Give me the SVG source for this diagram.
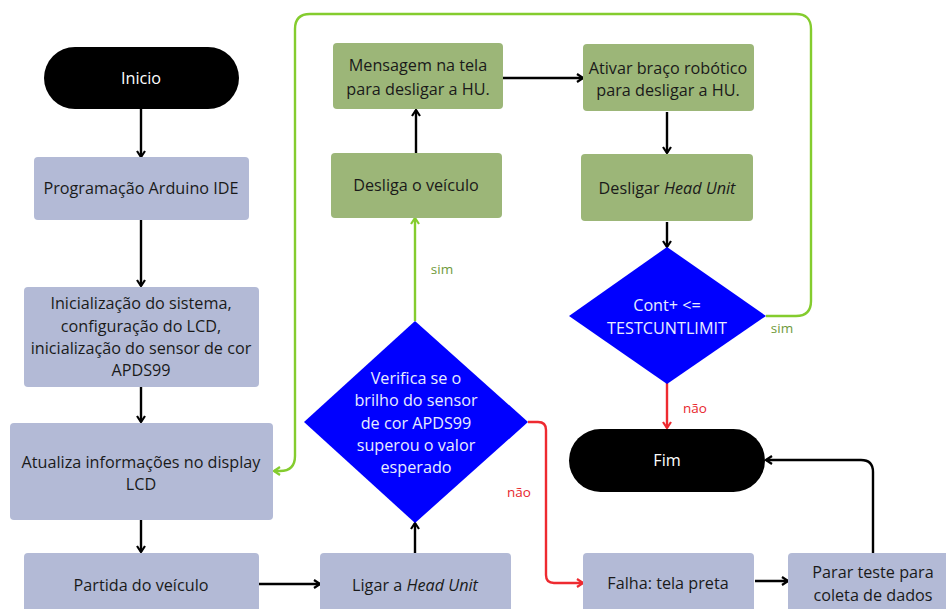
<svg xmlns="http://www.w3.org/2000/svg" width="946" height="609" viewBox="0 0 946 609">
<defs>
<style>
text{font-family:"Open Sans","Noto Sans","Liberation Sans",sans-serif;font-size:16.2px;text-anchor:middle;fill:#1a1a1a}
.w{fill:#ffffff}
.wb{fill:#e8ecff}
.g{fill:#b3bad6}
.gr{fill:#9cb678}
.d{fill:#0000ff}
.t{fill:#000000}
.c{fill:none;stroke:#000;stroke-width:2.4}
.cg{fill:none;stroke:#84cc2e;stroke-width:2.4}
.cr{fill:none;stroke:#ee2a30;stroke-width:2.4}
.lg{fill:#6f9a3a;font-size:13.5px}
.lr{fill:#e8262d;font-size:13.5px}
</style>
<marker id="ab" viewBox="0 0 10 10" refX="9" refY="5" markerWidth="10" markerHeight="10" markerUnits="userSpaceOnUse" orient="auto"><path d="M3,1 L9,5 L3,9" fill="none" stroke="#000" stroke-width="2.2"/></marker>
<marker id="ag" viewBox="0 0 10 10" refX="9" refY="5" markerWidth="10" markerHeight="10" markerUnits="userSpaceOnUse" orient="auto"><path d="M3,1 L9,5 L3,9" fill="none" stroke="#84cc2e" stroke-width="2.2"/></marker>
<marker id="ar" viewBox="0 0 10 10" refX="9" refY="5" markerWidth="10" markerHeight="10" markerUnits="userSpaceOnUse" orient="auto"><path d="M3,1 L9,5 L3,9" fill="none" stroke="#ee2a30" stroke-width="2.2"/></marker>
</defs>
<rect width="946" height="609" fill="#ffffff"/>
<g id="connectors">
<path class="c" d="M141,109 V157" marker-end="url(#ab)"/>
<path class="c" d="M141,220 V286" marker-end="url(#ab)"/>
<path class="c" d="M141,387 V422" marker-end="url(#ab)"/>
<path class="c" d="M141,520 V552" marker-end="url(#ab)"/>
<path class="c" d="M259,584 H320" marker-end="url(#ab)"/>
<path class="c" d="M415,553 V523" marker-end="url(#ab)"/>
<path class="cg" d="M415,321 V218" marker-end="url(#ag)"/>
<path class="c" d="M416,153 V110" marker-end="url(#ab)"/>
<path class="c" d="M503,78 H583" marker-end="url(#ab)"/>
<path class="c" d="M667,112 V153" marker-end="url(#ab)"/>
<path class="c" d="M667,222 V247" marker-end="url(#ab)"/>
<path class="cg" d="M766,316 H796 Q811,316 811,301 V29 Q811,14 796,14 H310 Q295,14 295,29 V456 Q295,471 280,471 H274" marker-end="url(#ag)"/>
<path class="cr" d="M667,383 V428" marker-end="url(#ar)"/>
<path class="cr" d="M528,422 H538 Q546,422 546,430 V575 Q546,583 554,583 H583" marker-end="url(#ar)"/>
<path class="c" d="M755,581 H788" marker-end="url(#ab)"/>
<path class="c" d="M873,553 V472 Q873,460 861,460 H766" marker-end="url(#ab)"/>
<text class="lg" x="442" y="274">sim</text>
<text class="lg" x="782" y="333">sim</text>
<text class="lr" x="695" y="413">não</text>
<text class="lr" x="519" y="497">não</text>
</g>
<g id="inicio"><rect class="t" x="44" y="47" width="195" height="62" rx="31"/><text class="w" x="141" y="84">Inicio</text></g>
<g id="programacao"><rect class="g" x="34" y="157" width="215" height="63" rx="4"/><text x="141" y="194">Programação Arduino IDE</text></g>
<g id="inicializacao"><rect class="g" x="24" y="287" width="235" height="100" rx="4"/><text x="141" y="309">Inicialização do sistema,</text><text x="141" y="332">configuração do LCD,</text><text x="141" y="354">inicialização do sensor de cor</text><text x="141" y="376">APDS99</text></g>
<g id="atualiza"><rect class="g" x="10" y="423" width="263" height="97" rx="4"/><text x="141" y="468">Atualiza informações no display</text><text x="141" y="490">LCD</text></g>
<g id="partida"><rect class="g" x="24" y="553" width="235" height="62" rx="4"/><text x="141" y="591">Partida do veículo</text></g>
<g id="ligar"><rect class="g" x="320" y="553" width="191" height="62" rx="4"/><text x="415" y="591">Ligar a <tspan font-style="italic">Head Unit</tspan></text></g>
<g id="verifica"><polygon class="d" points="415,321 528,422 415,523 304,422"/><text class="wb" x="416" y="384">Verifica se o</text><text class="wb" x="416" y="406">brilho do sensor</text><text class="wb" x="416" y="429">de cor APDS99</text><text class="wb" x="416" y="451">superou o valor</text><text class="wb" x="416" y="473">esperado</text></g>
<g id="desliga"><rect class="gr" x="331" y="153" width="171" height="65" rx="4"/><text x="416" y="191">Desliga o veículo</text></g>
<g id="mensagem"><rect class="gr" x="333" y="43" width="170" height="66" rx="4"/><text x="418" y="71">Mensagem na tela</text><text x="418" y="95">para desligar a HU.</text></g>
<g id="ativar"><rect class="gr" x="583" y="44" width="171" height="67" rx="4"/><text x="668" y="74">Ativar braço robótico</text><text x="668" y="96">para desligar a HU.</text></g>
<g id="desligarhu"><rect class="gr" x="581" y="154" width="172" height="67" rx="4"/><text x="667" y="194">Desligar <tspan font-style="italic">Head Unit</tspan></text></g>
<g id="cont"><polygon class="d" points="667,247 766,316 667,384 569,316"/><text class="wb" x="667" y="311">Cont+ &lt;=</text><text class="wb" x="667" y="334">TESTCUNTLIMIT</text></g>
<g id="fim"><rect class="t" x="569" y="429" width="196" height="63" rx="31.5"/><text class="w" x="667" y="466">Fim</text></g>
<g id="falha"><rect class="g" x="583" y="553" width="171" height="62" rx="4"/><text x="668" y="589">Falha: tela preta</text></g>
<g id="parar"><rect class="g" x="788" y="553" width="165" height="62" rx="4"/><text x="873" y="578">Parar teste para</text><text x="873" y="601">coleta de dados</text></g>
</svg>
